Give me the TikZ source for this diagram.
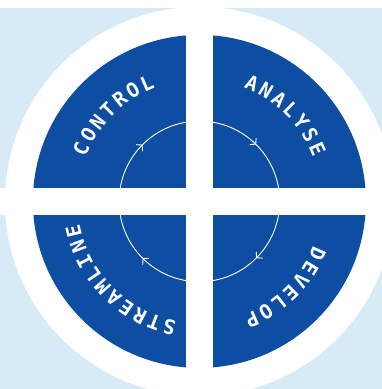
\documentclass[tikz,border=0pt]{standalone}
\usepackage{fontspec}
\newfontfamily\lblfont{DejaVu Sans Mono}
\usetikzlibrary{decorations.markings,arrows.meta}
\definecolor{bgblue}{RGB}{214,235,246}
\definecolor{qblue}{RGB}{14,78,162}
\begin{document}
\begin{tikzpicture}[x=1pt,y=1pt,
  letter/.style={text=white,font=\lblfont\bfseries\fontsize{20pt}{20pt}\selectfont,inner sep=0pt,anchor=base},
  band/.style={fill=white,draw=none},
  cycle/.style={draw=white,line width=0.9pt,postaction={decorate},
    decoration={markings,
      mark=at position 0.125 with {\arrow{Straight Barb[length=4pt,width=9pt,line width=0.9pt]}},
      mark=at position 0.375 with {\arrow{Straight Barb[length=4pt,width=9pt,line width=0.9pt]}},
      mark=at position 0.625 with {\arrow{Straight Barb[length=4pt,width=9pt,line width=0.9pt]}},
      mark=at position 0.875 with {\arrow{Straight Barb[length=4pt,width=9pt,line width=0.9pt]}}}}]
\useasboundingbox (-199.4,-187.6) rectangle (182.6,201.4);
\fill[bgblue] (-199.4,-187.6) rectangle (182.6,193.4);
\fill[white] (0,0) circle[radius=194.5];
\fill[qblue] (0,0) circle[radius=166.5];
\fill[band] (-199.4,-13.65) rectangle (182.6,13.65);
\fill[band] (-13.65,-187.6) rectangle (13.65,201.4);
\draw[cycle] (90:80.3) arc[start angle=90,end angle=-270,radius=80.3];
\def\rb{122}
\def\st{7.0}
\foreach \ch [count=\i] in {C,O,N,T,R,O,L}{
  \pgfmathsetmacro\ang{135+(4-\i)*\st}
  \node[letter,rotate=\ang-90] (c\i) at (\ang:\rb) {\ch};}
\foreach \ch [count=\i] in {A,N,A,L,Y,S,E}{
  \pgfmathsetmacro\ang{45+(4-\i)*\st}
  \node[letter,rotate=\ang-90] (a\i) at (\ang:\rb) {\ch};}
\foreach \ch [count=\i] in {D,E,V,E,L,O,P}{
  \pgfmathsetmacro\ang{-45+(4-\i)*\st}
  \node[letter,rotate=\ang-90] (d\i) at (\ang:\rb) {\ch};}
\foreach \ch [count=\i] in {S,T,R,E,A,M,L,I,N,E}{
  \pgfmathsetmacro\ang{-135+(5.5-\i)*\st}
  \node[letter,rotate=\ang-90] (s\i) at (\ang:\rb) {\ch};}
\end{tikzpicture}
\end{document}
